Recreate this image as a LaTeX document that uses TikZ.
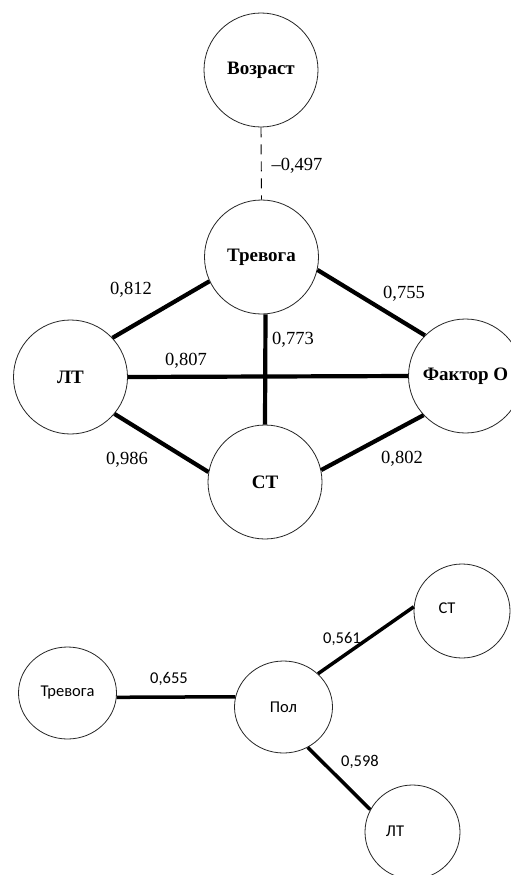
\documentclass[tikz,border=0pt]{standalone}
\usepackage{fontspec}
\setmainfont{Liberation Serif}
\newfontfamily\calib{Carlito}
\usetikzlibrary{shapes.geometric}
\begin{document}
\begin{tikzpicture}[x=1pt,y=-1pt,
  topc/.style={circle,draw=black!85,line width=0.8pt,minimum size=114pt,inner sep=0pt,
    font=\fontsize{19}{22}\selectfont\bfseries},
  botc/.style={ellipse,draw=black!85,line width=0.8pt,minimum width=98pt,minimum height=92pt,inner sep=0pt,
    font=\calib\fontsize{16.5}{19}\selectfont},
  btxt/.style={inner sep=0pt,font=\calib\fontsize{16.5}{19}\selectfont},
  tnum/.style={inner sep=0pt,font=\fontsize{18.5}{21}\selectfont},
  bnum/.style={inner sep=0pt,font=\calib\fontsize{16.5}{19}\selectfont},
  thick link/.style={line width=4.2pt},
  bot link/.style={line width=3.5pt},
  dash link/.style={line width=0.9pt,dash pattern=on 10pt off 7pt}]
\useasboundingbox (0,0) rectangle (511,875);
\clip (0,0) rectangle (511,875);
\fill[white] (0,0) rectangle (511,875);
% top diagram
\node[topc] (v) at (261,70) {Возраст};
\node[topc] (t) at (261.5,257) {Тревога};
\node[topc] (l) at (70.5,377) {ЛТ};
\node[topc] (f) at (465.5,376) {Фактор О};
\node[topc] (s) at (265,482) {СТ};
\draw[dash link] (v.south) -- (t.north);
\draw[thick link] (l.43) -- (t.205);
\draw[thick link] (t.-13) -- (f.135);
\draw[thick link] (t.-86) -- (s.north);
\draw[thick link] (l.east) -- (f.west);
\draw[thick link] (l.-40) -- (s.170);
\draw[thick link] (s.12) -- (f.223);
\node[tnum] (n497) at (297,166) {–0,497};
\node[tnum] (n812) at (131,290) {0,812};
\node[tnum] (n755) at (404,294) {0,755};
\node[tnum] (n773) at (293,340) {0,773};
\node[tnum] (n807) at (186,361) {0,807};
\node[tnum] (n986) at (127,460) {0,986};
\node[tnum] (n802) at (402,459) {0,802};
% bottom diagram
\node[botc] (bt) at (67.5,693) {Тревога};
\node[botc] (bp) at (283.5,707) {Пол};
\node[botc,minimum width=96pt,minimum height=94pt] (bs) at (462,611) {};
\node[botc,minimum width=95pt,minimum height=94pt] (bl) at (412.5,832) {};
\node[btxt] (bstxt) at (447,608) {СТ};
\node[btxt] (bltxt) at (395,831) {ЛТ};
\draw[bot link] (bt.-5) -- (bp.168);
\draw[bot link] (bp.44) -- (bs.175);
\draw[bot link] (bp.-59) -- (bl.152);
\node[bnum] (n655) at (169,679) {0,655};
\node[bnum] (n561) at (342,639) {0,561};
\node[bnum] (n598) at (360,762) {0,598};
\end{tikzpicture}
\end{document}
